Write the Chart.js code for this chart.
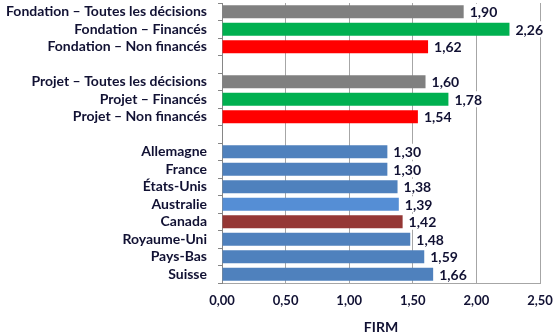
<!DOCTYPE html>
<html>
<head>
<meta charset="utf-8">
<script src="https://cdn.jsdelivr.net/npm/chart.js@4/dist/chart.umd.min.js"></script>
<style>
  html, body { margin: 0; padding: 0; background: #fff; }
  #wrap { width: 556px; height: 336px; }
</style>
</head>
<body>
<div id="wrap"><canvas id="c" width="556" height="336"></canvas></div>
<script>
// Categories (empty strings are spacer rows between groups)
const categories = [
  'Fondation – Toutes les décisions',
  'Fondation – Financés',
  'Fondation – Non financés',
  '',
  'Projet – Toutes les décisions',
  'Projet – Financés',
  'Projet – Non financés',
  ' ',
  'Allemagne',
  'France',
  'États-Unis',
  'Australie',
  'Canada',
  'Royaume-Uni',
  'Pays-Bas',
  'Suisse'
];
// FIRM values (null for spacer rows)
const firmValues = [1.90, 2.26, 1.62, null, 1.60, 1.78, 1.54, null,
                    1.30, 1.30, 1.38, 1.39, 1.42, 1.48, 1.59, 1.66];
const barColors = ['#808080', '#00B050', '#FF0000', '#ffffff',
                   '#808080', '#00B050', '#FF0000', '#ffffff',
                   '#4F81BD', '#4F81BD', '#4F81BD', '#558ED5',
                   '#953735', '#4F81BD', '#4F81BD', '#4F81BD'];
const xTicks = [0, 0.5, 1.0, 1.5, 2.0, 2.5];
const axisTitle = 'FIRM';

const textColor = '#111133';
const fontFamily = 'Lato, "Open Sans", sans-serif';
const fmt = v => v.toFixed(2).replace('.', ',');

// Value labels at the end of each bar
const valueLabels = {
  id: 'valueLabels',
  afterDatasetsDraw(chart) {
    const ctx = chart.ctx;
    const meta = chart.getDatasetMeta(0);
    ctx.save();
    ctx.font = 'bold 14px ' + fontFamily;
    ctx.textBaseline = 'middle';
    ctx.textAlign = 'left';
    meta.data.forEach((bar, i) => {
      const v = firmValues[i];
      if (v === null) return;
      const txt = fmt(v);
      const x = bar.x + 6;
      const w = ctx.measureText(txt).width;
      ctx.fillStyle = '#fff';
      ctx.fillRect(x - 1, bar.y - 8, w + 2, 16);
      ctx.fillStyle = textColor;
      ctx.fillText(txt, x, bar.y + 1);
    });
    ctx.restore();
  }
};

new Chart(document.getElementById('c'), {
  type: 'bar',
  data: {
    labels: categories,
    datasets: [{
      data: firmValues,
      backgroundColor: barColors,
      categoryPercentage: 1,
      barPercentage: 0.73
    }]
  },
  options: {
    indexAxis: 'y',
    responsive: false,
    animation: false,
    devicePixelRatio: 1,
    layout: { padding: { top: 3, right: 16, left: 0, bottom: 0 } },
    plugins: { legend: { display: false }, tooltip: { enabled: false } },
    scales: {
      x: {
        min: 0, max: 2.5,
        afterBuildTicks(scale) { scale.ticks = xTicks.map(v => ({ value: v })); },
        afterFit(scale) {
          scale.height = 53;
          scale.paddingLeft = 0;
          scale.paddingRight = 0;
        },
        grid: { color: '#a6a6a6', lineWidth: 1, drawTicks: false },
        border: { display: true, color: '#a6a6a6' },
        ticks: {
          padding: 10,
          color: textColor,
          font: { family: fontFamily, size: 13, weight: 'bold' },
          callback: v => fmt(v),
          maxRotation: 0
        },
        title: {
          display: true, text: axisTitle, color: textColor,
          font: { family: fontFamily, size: 14, weight: 'bold' },
          padding: { top: 6, bottom: 0 }
        }
      },
      y: {
        afterFit(scale) {
          scale.width = 222;
          scale.paddingTop = 0;
          scale.paddingBottom = 0;
        },
        grid: { drawOnChartArea: false, drawTicks: true, tickLength: 4, color: '#868686', offset: true },
        border: { display: true, color: '#868686' },
        ticks: {
          padding: 11,
          color: textColor,
          autoSkip: false,
          font: { family: fontFamily, size: 14, weight: 'bold' }
        }
      }
    }
  },
  plugins: [valueLabels]
});
</script>
</body>
</html>
